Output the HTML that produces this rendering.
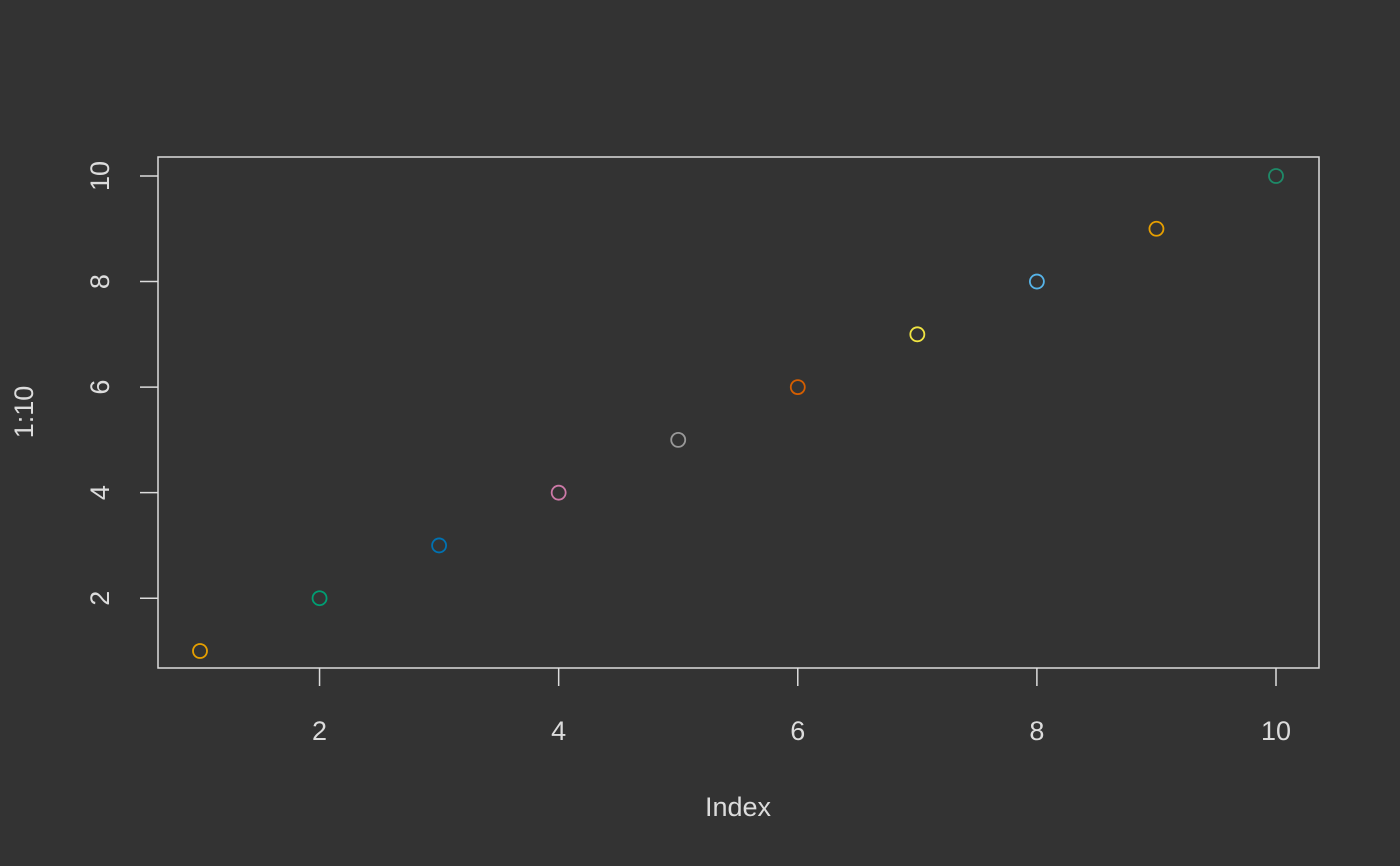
<!DOCTYPE html>
<html><head><meta charset="utf-8"><style>
html,body{margin:0;padding:0;background:#333333;}
svg{display:block;font-family:"Liberation Sans",Arial,sans-serif;}
</style></head><body>
<svg id="chart" width="1400" height="866">
<rect x="0" y="0" width="1400" height="866" fill="#333333"/>
</svg>
<script>
const xValues=[1,2,3,4,5,6,7,8,9,10];
const yValues=[1,2,3,4,5,6,7,8,9,10];
const pointColors=["#E69F00","#009E73","#0072B2","#CC79A7","#999999","#D55E00","#F0E442","#56B4E9","#E69F00","#1E8A68"];
const xTicks=[2,4,6,8,10];
const yTicks=[2,4,6,8,10];
const NS="http://www.w3.org/2000/svg";
const svg=document.getElementById('chart');
const X0=1,X1=10,PX0=200,PX1=1276;
const Y0=1,Y1=10,PY0=651,PY1=176;
function sx(v){return PX0+(v-X0)*(PX1-PX0)/(X1-X0);}
function sy(v){return PY0+(v-Y0)*(PY1-PY0)/(Y1-Y0);}
function mk(t,a){const e=document.createElementNS(NS,t);for(const k in a)e.setAttribute(k,a[k]);svg.appendChild(e);return e;}
const fg="#dcdcdc";
const box=mk('rect',{x:158,y:157,width:1161,height:511,fill:'none',stroke:fg,'stroke-width':1.5});


xTicks.forEach(v=>{
  const l=mk('line',{x1:sx(v),x2:sx(v),y1:668,y2:686,stroke:fg,'stroke-width':1.5});
  
  
  const t=mk('text',{x:sx(v),y:740,fill:fg,'font-size':27,'text-anchor':'middle'});
  t.textContent=v;
  
  
});
yTicks.forEach(v=>{
  const l=mk('line',{x1:140,x2:158,y1:sy(v),y2:sy(v),stroke:fg,'stroke-width':1.5});
  
  
  const t=mk('text',{x:0,y:0,fill:fg,'font-size':27,'text-anchor':'middle',transform:`translate(109,${sy(v)}) rotate(-90)`});
  t.textContent=v;
  
  
});
const xt=mk('text',{x:738,y:816,fill:fg,'font-size':27,'text-anchor':'middle'});
xt.textContent='Index';


const yt=mk('text',{x:0,y:0,fill:fg,'font-size':27,'text-anchor':'middle',transform:'translate(33,412) rotate(-90)'});
yt.textContent='1:10';


xValues.forEach((x,i)=>{
  const c=mk('circle',{cx:sx(x),cy:sy(yValues[i]),r:7,fill:'none',stroke:pointColors[i],'stroke-width':1.8});
  
  
});
</script>
</body></html>
